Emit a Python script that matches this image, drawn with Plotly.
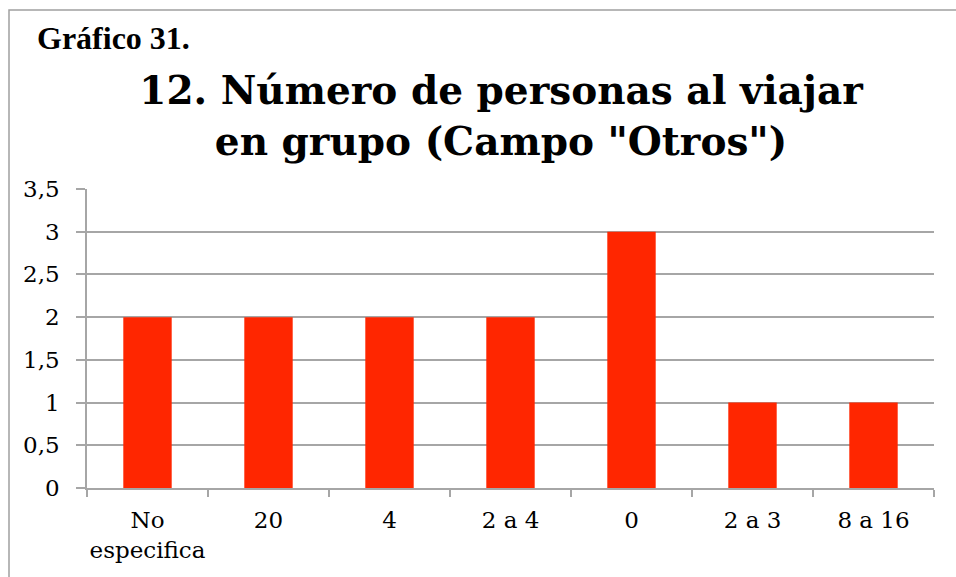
import plotly.graph_objects as go

categories = ["No<br>especifica", "20", "4", "2 a 4", "0", "2 a 3", "8 a 16"]
values = [2, 2, 2, 2, 3, 1, 1]
y_ticks = [0, 0.5, 1, 1.5, 2, 2.5, 3, 3.5]
y_tick_text = ["0", "0,5", "1", "1,5", "2", "2,5", "3", "3,5"]

W, H = 956, 577
L, R, T, B = 87, 22, 189, 89
pw, ph = W - L - R, H - T - B

grid = "#A6A6A6"
tick_font = dict(family="DejaVu Serif", size=23, color="black")

fig = go.Figure(
    go.Bar(x=categories, y=values, marker=dict(color="#FF2600", line=dict(width=0)), width=0.4)
)

fig.update_layout(
    width=W,
    height=H,
    margin=dict(l=L, r=R, t=T, b=B),
    paper_bgcolor="white",
    plot_bgcolor="white",
    showlegend=False,
    title=dict(
        text="12. Número de personas al viajar<br>en grupo (Campo \"Otros\")",
        font=dict(family="DejaVu Serif", size=39, color="black", weight="bold"),
        x=501 / W,
        xanchor="center",
        y=1 - 104 / H,
        yanchor="middle",
        xref="container",
        yref="container",
    ),
    annotations=[
        dict(
            text="<b>Gráfico 31.</b>",
            xref="paper", yref="paper",
            x=(35 - L) / pw, y=(H - B - 58) / ph,
            xanchor="left", yanchor="bottom",
            showarrow=False,
            font=dict(family="Liberation Serif", size=32, color="black"),
        )
    ],
    shapes=[
        dict(
            type="rect", xref="paper", yref="paper",
            x0=(9 - L) / pw, x1=1.2, y0=-0.6, y1=(H - B - 10) / ph,
            line=dict(color="#A0A0A0", width=1.5),
        )
    ],
)

fig.update_xaxes(
    tickson="boundaries",
    ticks="outside",
    ticklen=7,
    tickcolor=grid,
    tickwidth=1.5,
    tickangle=0,
    showline=True,
    linecolor=grid,
    linewidth=1.5,
    showgrid=False,
    tickfont=tick_font,
    ticklabelstandoff=11,
    automargin=False,
)
fig.update_yaxes(
    range=[0, 3.5],
    tickvals=y_ticks,
    ticktext=y_tick_text,
    ticks="outside",
    ticklen=9,
    tickcolor=grid,
    tickwidth=1.5,
    showline=True,
    linecolor=grid,
    linewidth=1.5,
    showgrid=True,
    gridcolor=grid,
    gridwidth=1.5,
    zeroline=False,
    tickfont=tick_font,
    ticklabelstandoff=12,
    automargin=False,
)

fig.write_html(
    "out.html",
    config={"displayModeBar": False},
    post_script="document.body.style.margin='0';",
)
